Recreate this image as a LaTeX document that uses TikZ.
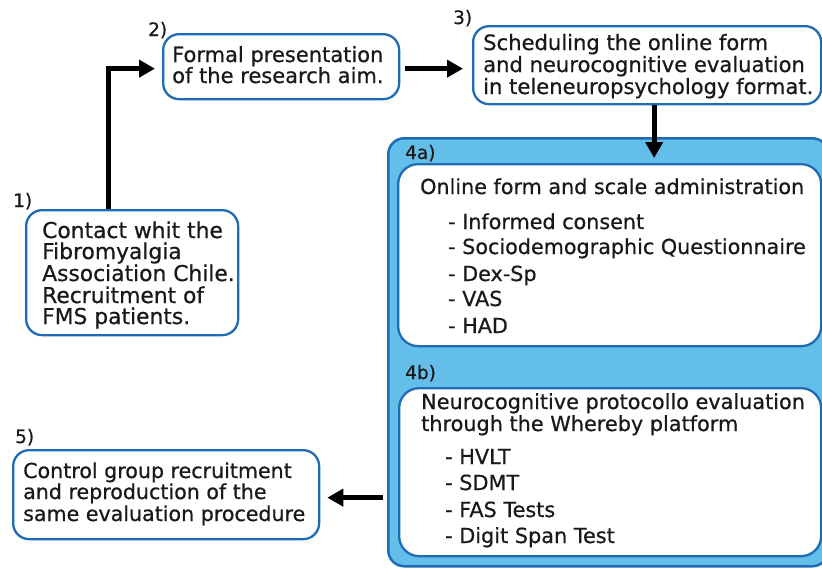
\documentclass[tikz,border=0pt]{standalone}
\usepackage{fontspec}
\setmainfont{DejaVu Sans}[BoldFont=DejaVu Sans, BoldFeatures={FakeBold=0.6}]
\usetikzlibrary{arrows.meta}
\definecolor{edgeblue}{RGB}{31,108,180}
\definecolor{panelfill}{RGB}{99,190,234}
\definecolor{inkcol}{RGB}{25,25,25}
\begin{document}
\begin{tikzpicture}[x=1pt,y=-1pt,
 box/.style={draw=edgeblue, line width=2.3pt, fill=white, rounded corners=16pt, anchor=north west, inner sep=0pt},
 panel/.style={draw=edgeblue, line width=2.5pt, fill=panelfill, rounded corners=16pt, anchor=north west, inner sep=0pt},
 txt/.style={anchor=base west, inner sep=0pt, font=\fontsize{#1}{24}\selectfont\bfseries, text=inkcol},
 txt/.default=20.7,
 lbl/.style={anchor=base west, inner sep=0pt, font=\fontsize{18.5}{20}\selectfont\bfseries, text=inkcol},
 arr/.style={line width=5pt, -{Triangle[length=16pt,width=17pt]}}]
\useasboundingbox (0,0) rectangle (822,568);
% boxes
\node[panel, minimum width=440pt, minimum height=428pt] (pan) at (387,137) {};
\node[box, minimum width=423pt, minimum height=182pt, rounded corners=20pt] (b4a) at (397,163) {};
\node[box, minimum width=422pt, minimum height=168pt, rounded corners=20pt] (b4b) at (398,387) {};
\node[box, minimum width=212pt, minimum height=125pt] (b1) at (25,209) {};
\node[box, minimum width=236pt, minimum height=65pt] (b2) at (162,33) {};
\node[box, minimum width=348pt, minimum height=78pt] (b3) at (472,25) {};
\node[box, minimum width=306pt, minimum height=89pt] (b5) at (12,449) {};
% labels
\node[lbl] (l1) at (13,207) {1)};
\node[lbl] (l2) at (148,36) {2)};
\node[lbl] (l3) at (453,24) {3)};
\node[lbl] (l4a) at (405,159) {4a)};
\node[lbl] (l4b) at (405,379) {4b)};
\node[lbl] (l5) at (15,443) {5)};
% box 1
\node[txt=21.8] (t11) at (42,238) {Contact whit the};
\node[txt=21.8] (t12) at (42,259) {Fibromyalgia};
\node[txt=21.8] (t13) at (42,281) {Association Chile.};
\node[txt=21.8] (t14) at (42,303) {Recruitment of};
\node[txt=21.8] (t15) at (42,324) {FMS patients.};
% box 2
\node[txt=21] (t21) at (172,62) {Formal presentation};
\node[txt=21] (t22) at (172,83) {of the research aim.};
% box 3
\node[txt=21.1] (t31) at (483,50) {Scheduling the online form};
\node[txt=21.1] (t32) at (483,72) {and neurocognitive evaluation};
\node[txt=21.1] (t33) at (483,94) {in teleneuropsychology format.};
% box 4a
\node[txt] (t4a0) at (420,194) {Online form and scale administration};
\node[txt] (t4a1) at (448,229) {- Informed consent};
\node[txt] (t4a2) at (448,254) {- Sociodemographic Questionnaire};
\node[txt] (t4a3) at (448,281) {- Dex-Sp};
\node[txt] (t4a4) at (448,306) {- VAS};
\node[txt] (t4a5) at (448,333) {- HAD};
% box 4b
\node[txt=20.8] (t4b0) at (421,409) {Neurocognitive protocollo evaluation};
\node[txt=20.8] (t4b1) at (421,431) {through the Whereby platform};
\node[txt=20.8] (t4b2) at (445,464) {- HVLT};
\node[txt=20.8] (t4b3) at (445,490) {- SDMT};
\node[txt=20.8] (t4b4) at (445,517) {- FAS Tests};
\node[txt=20.8] (t4b5) at (445,543) {- Digit Span Test};
% box 5
\node[txt=20.6] (t51) at (23,478) {Control group recruitment};
\node[txt=20.6] (t52) at (23,499) {and reproduction of the};
\node[txt=20.6] (t53) at (23,521) {same evaluation procedure};
% arrows
\draw[arr, shorten >=7pt] ([xshift=-24pt]b1.north) |- ([yshift=-2pt]b2.west);
\draw[arr, shorten <=5pt, shorten >=9pt] ([yshift=-2pt]b2.east) -- ([yshift=-2pt]b2.east -| b3.west);
\draw[arr, shorten >=5pt] ([xshift=7pt]b3.south) -- ([xshift=7pt]b3.south |- b4a.north);
\draw[arr, shorten <=4pt, shorten >=7pt] ([yshift=-3pt]b5.east -| pan.west) -- ([yshift=-3pt]b5.east);
\end{tikzpicture}
\end{document}
